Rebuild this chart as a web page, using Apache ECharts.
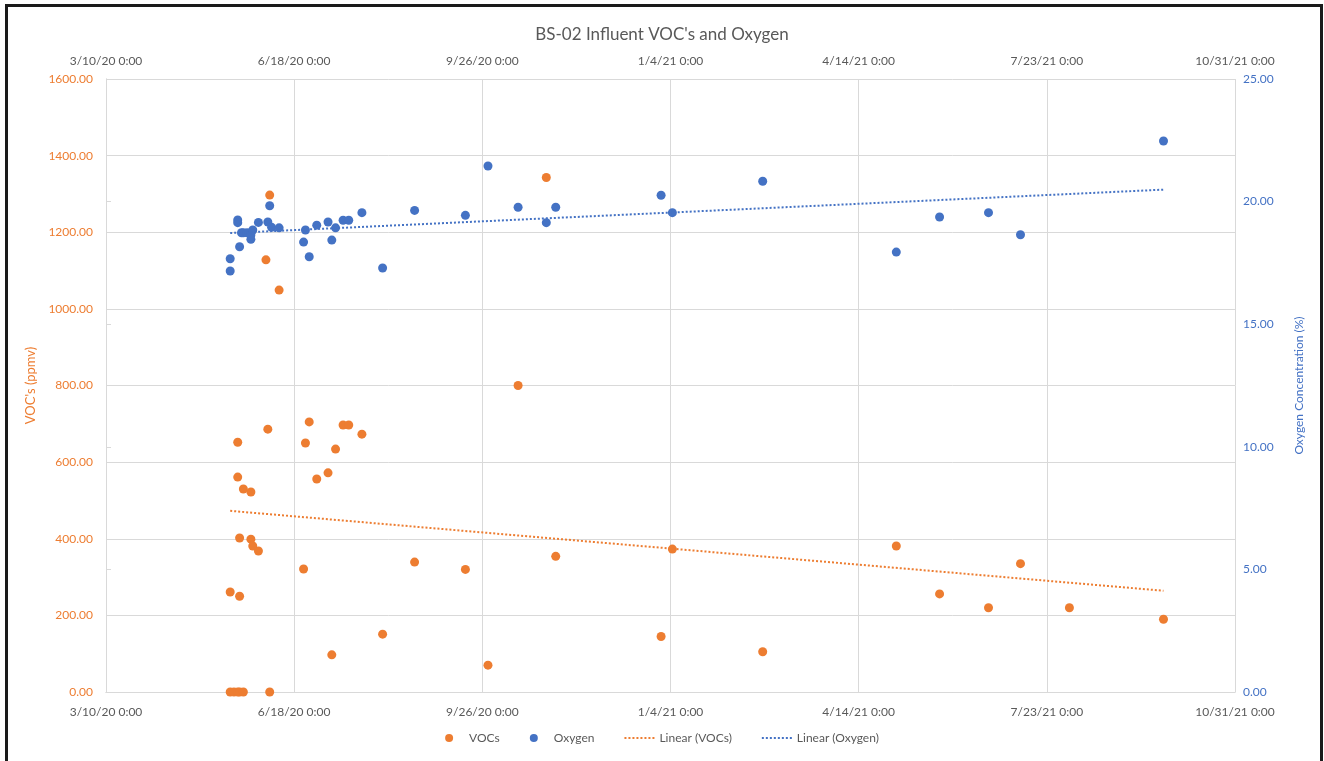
<!DOCTYPE html>
<html>
<head>
<meta charset="utf-8">
<script src="https://cdn.jsdelivr.net/npm/echarts@6/dist/echarts.min.js"></script>
<style>
  html, body { margin: 0; padding: 0; background: #fff; }
  #frame { position: absolute; left: 5px; top: 4px; width: 1312px; height: 760px; border: 3px solid #1a1a1a; border-bottom: none; }
  #chart { position: absolute; left: 0; top: 0; width: 1324px; height: 761px; }
</style>
</head>
<body>
<div id="frame"></div>
<div id="chart"></div>
<script>
// sample dates (M/D/YY) and readings
const vocDates = [
  "5/15/20", "5/15/20", "5/17/20", "5/19/20", "5/19/20", "5/19/20", "5/20/20", "5/20/20", "5/20/20",
  "5/22/20", "5/22/20", "5/26/20", "5/26/20", "5/27/20", "5/30/20", "6/3/20", "6/4/20", "6/5/20",
  "6/5/20", "6/10/20", "6/23/20", "6/24/20", "6/26/20", "6/30/20", "7/6/20", "7/8/20", "7/10/20",
  "7/14/20", "7/17/20", "7/24/20", "8/4/20", "8/21/20", "9/17/20", "9/29/20", "10/15/20", "10/30/20",
  "11/4/20", "12/30/20", "1/5/21", "2/22/21", "5/4/21", "5/27/21", "6/22/21", "7/9/21", "8/4/21", "9/23/21"
];
const vocValues = [
  261, 0, 0, 652, 561, 0, 250, 402, 0,
  530, 0, 522, 399, 381, 368, 1128, 686, 1297,
  0, 1049, 321, 650, 705, 556, 572, 97, 634,
  697, 697, 673, 151, 339, 320, 70, 800, 1343,
  354, 145, 373, 105, 381, 256, 220, 335, 220, 190
];

const o2Dates = [
  "5/15/20", "5/15/20", "5/19/20", "5/19/20", "5/20/20", "5/21/20", "5/22/20", "5/24/20", "5/26/20",
  "5/26/20", "5/27/20", "5/30/20", "6/4/20", "6/5/20", "6/6/20", "6/10/20", "6/23/20", "6/24/20",
  "6/26/20", "6/30/20", "7/6/20", "7/8/20", "7/10/20", "7/14/20", "7/17/20", "7/24/20", "8/4/20",
  "8/21/20", "9/17/20", "9/29/20", "10/15/20", "10/30/20", "11/4/20", "12/30/20", "1/5/21", "2/22/21",
  "5/4/21", "5/27/21", "6/22/21", "7/9/21", "9/23/21"
];
const o2Values = [
  17.17, 17.67, 19.25, 19.14, 18.16, 18.73, 18.73, 18.73, 18.46,
  18.64, 18.84, 19.15, 19.17, 19.83, 18.95, 18.93, 18.35, 18.84,
  17.75, 19.04, 19.17, 18.43, 18.93, 19.24, 19.24, 19.55, 17.29,
  19.64, 19.44, 21.45, 19.77, 19.14, 19.77, 20.26, 19.55, 20.83,
  17.94, 19.37, 19.55, 18.65, 22.47
];

const vocTicks = [0, 200, 400, 600, 800, 1000, 1200, 1400, 1600];
const o2Ticks = [0, 5, 10, 15, 20, 25];

// x axis counts days from 3/10/20, one tick every 100 days
const BASE = Date.UTC(2020, 2, 10);
const DAY = 86400000;

function toDay(s) {
  const p = s.split("/").map(Number);
  return (Date.UTC(2000 + p[2], p[0] - 1, p[1]) - BASE) / DAY;
}
function dayLabel(d) {
  const t = new Date(BASE + d * DAY);
  return (t.getUTCMonth() + 1) + "/" + t.getUTCDate() + "/" + String(t.getUTCFullYear()).slice(2) + " 0:00";
}
// Excel style linear trendline across the data range
function trend(xs, ys) {
  const n = xs.length;
  let sx = 0, sy = 0, sxx = 0, sxy = 0;
  for (let i = 0; i < n; i++) {
    sx += xs[i]; sy += ys[i]; sxx += xs[i] * xs[i]; sxy += xs[i] * ys[i];
  }
  const b = (n * sxy - sx * sy) / (n * sxx - sx * sx);
  const a = (sy - b * sx) / n;
  const lo = Math.min.apply(null, xs), hi = Math.max.apply(null, xs);
  return [[lo, a + b * lo], [hi, a + b * hi]];
}

const vocX = vocDates.map(toDay);
const o2X = o2Dates.map(toDay);

const ORANGE = "#ED7D31";
const BLUE = "#4472C4";
const GREY = "#595959";
const FONT = "Lato";
// dotted line for the legend of the trendlines
const DOTS = "path://M0,0h2v2h-2zM4,0h2v2h-2zM8,0h2v2h-2zM12,0h2v2h-2zM16,0h2v2h-2zM20,0h2v2h-2zM24,0h2v2h-2zM28,0h2v2h-2z";

const xBase = {
  type: "value",
  min: 0,
  max: 600,
  interval: 100,
  axisLine: { show: true, lineStyle: { color: "#D9D9D9" } },
  axisTick: { show: false },
  axisLabel: { color: GREY, fontFamily: FONT, fontSize: 12, formatter: dayLabel }
};

let chart = echarts.init(document.getElementById("chart"));
chart.setOption({
  animation: false,
  textStyle: { fontFamily: FONT },
  title: {
    text: "BS-02 Influent VOC's and Oxygen",
    left: "center",
    top: 21,
    textStyle: { color: GREY, fontFamily: FONT, fontSize: 17, fontWeight: "normal" }
  },
  grid: { left: 106, right: 89, top: 79, bottom: 69 },
  legend: {
    bottom: 12,
    left: "center",
    itemWidth: 30,
    itemHeight: 8,
    itemGap: 30,
    symbolKeepAspect: true,
    textStyle: { color: GREY, fontFamily: FONT, fontSize: 12 },
    data: [
      { name: "VOCs", icon: "circle" },
      { name: "Oxygen", icon: "circle" },
      { name: "Linear (VOCs)", icon: DOTS },
      { name: "Linear (Oxygen)", icon: DOTS }
    ]
  },
  xAxis: [
    Object.assign({}, xBase, {
      position: "bottom",
      axisLabel: Object.assign({}, xBase.axisLabel, { margin: 14 }),
      splitLine: { show: true, lineStyle: { color: "#D9D9D9" } }
    }),
    Object.assign({}, xBase, {
      position: "top",
      axisLabel: Object.assign({}, xBase.axisLabel, { margin: 12 }),
      splitLine: { show: false }
    })
  ],
  yAxis: [
    {
      type: "value",
      position: "left",
      min: vocTicks[0],
      max: vocTicks[vocTicks.length - 1],
      interval: 200,
      name: "VOC's (ppmv)",
      nameLocation: "middle",
      nameGap: 66,
      nameTextStyle: { color: ORANGE, fontFamily: FONT, fontSize: 13 },
      axisLine: { show: true, lineStyle: { color: "#D9D9D9" } },
      axisTick: { show: false },
      axisLabel: { color: ORANGE, fontFamily: FONT, fontSize: 12, margin: 13, formatter: v => v.toFixed(2) },
      splitLine: { show: true, lineStyle: { color: "#D9D9D9" } }
    },
    {
      type: "value",
      position: "right",
      min: o2Ticks[0],
      max: o2Ticks[o2Ticks.length - 1],
      interval: 5,
      name: "Oxygen Concentration (%)",
      nameLocation: "middle",
      nameGap: 58,
      nameTextStyle: { color: BLUE, fontFamily: FONT, fontSize: 12 },
      axisLine: { show: true, lineStyle: { color: "#D9D9D9" } },
      axisTick: { show: true, length: 5, lineStyle: { color: "#D9D9D9" } },
      axisLabel: { color: BLUE, fontFamily: FONT, fontSize: 12, margin: 8, formatter: v => v.toFixed(2) },
      splitLine: { show: false }
    }
  ],
  series: [
    {
      name: "VOCs",
      type: "scatter",
      yAxisIndex: 0,
      symbolSize: 9,
      itemStyle: { color: ORANGE, opacity: 1 },
      data: vocX.map((x, i) => [x, vocValues[i]])
    },
    {
      name: "Oxygen",
      type: "scatter",
      yAxisIndex: 1,
      symbolSize: 9,
      itemStyle: { color: BLUE, opacity: 1 },
      data: o2X.map((x, i) => [x, o2Values[i]])
    },
    {
      name: "Linear (VOCs)",
      type: "line",
      yAxisIndex: 0,
      showSymbol: false,
      symbol: "none",
      lineStyle: { color: ORANGE, width: 2, type: [2, 2] },
      itemStyle: { color: ORANGE },
      data: trend(vocX, vocValues)
    },
    {
      name: "Linear (Oxygen)",
      type: "line",
      yAxisIndex: 1,
      showSymbol: false,
      symbol: "none",
      lineStyle: { color: BLUE, width: 2, type: [2, 2] },
      itemStyle: { color: BLUE },
      data: trend(o2X, o2Values)
    }
  ]
});
</script>
</body>
</html>
